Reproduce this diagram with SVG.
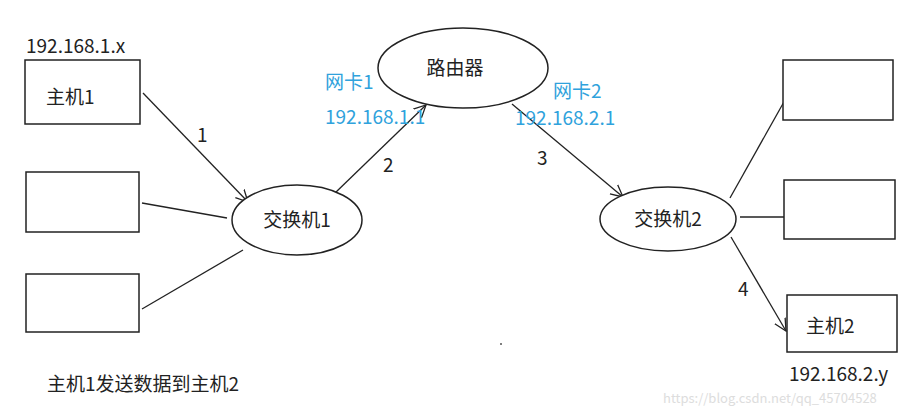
<svg xmlns="http://www.w3.org/2000/svg" width="916" height="415" viewBox="0 0 916 415">
<style>
text{font-family:"Noto Sans CJK SC","Noto Sans",sans-serif;font-size:19px;fill:#222}
.b{fill:#2fa2dc}
.n{fill:#fff;stroke:#222;stroke-width:1.5}
.c line{stroke:#222;stroke-width:1.3}
</style>
<defs><marker id="a" markerWidth="14" markerHeight="14" refX="12" refY="7" orient="auto" markerUnits="userSpaceOnUse"><path d="M0,1 L12,7 L0,13" fill="none" stroke="#222" stroke-width="1.3"/></marker></defs>
<rect width="916" height="415" fill="#fff"/>
<g class="c">
<line x1="143" y1="93" x2="248" y2="202" marker-end="url(#a)"/>
<line x1="142" y1="203" x2="227" y2="218"/>
<line x1="142" y1="309" x2="243" y2="250"/>
<line x1="335" y1="193" x2="426" y2="105" marker-end="url(#a)"/>
<line x1="512" y1="104" x2="623" y2="197" marker-end="url(#a)"/>
<line x1="730" y1="198" x2="785" y2="100"/>
<line x1="740" y1="217" x2="784" y2="217"/>
<line x1="731" y1="237" x2="786" y2="331" marker-end="url(#a)"/>
</g>
<g id="host1"><rect class="n" x="25" y="60" width="115" height="64"/><text x="46" y="104">主机1</text></g>
<g id="hostA"><rect class="n" x="26" y="172" width="113" height="60"/></g>
<g id="hostB"><rect class="n" x="26" y="274" width="113" height="58"/></g>
<g id="switch1"><ellipse class="n" cx="297" cy="220" rx="65" ry="35"/><text x="297" y="227" text-anchor="middle">交换机1</text></g>
<g id="router"><ellipse class="n" cx="463" cy="68" rx="85" ry="40"/><text x="455" y="75" text-anchor="middle">路由器</text></g>
<g id="switch2"><ellipse class="n" cx="668" cy="219" rx="68" ry="32"/><text x="668" y="226" text-anchor="middle">交换机2</text></g>
<g id="hostC"><rect class="n" x="783" y="60" width="110" height="60"/></g>
<g id="hostD"><rect class="n" x="784" y="180" width="111" height="59"/></g>
<g id="host2"><rect class="n" x="787" y="295" width="110" height="57"/><text x="806" y="333">主机2</text></g>
<text x="197" y="142">1</text>
<text x="383" y="172">2</text>
<text x="537" y="165">3</text>
<text x="738" y="296">4</text>
<text x="26" y="53">192.168.1.x</text>
<text class="b" x="325" y="89">网卡1</text>
<text class="b" x="325" y="124">192.168.1.1</text>
<text class="b" x="553" y="98">网卡2</text>
<text class="b" x="515" y="125">192.168.2.1</text>
<text x="789" y="381">192.168.2.y</text>
<text x="47" y="391">主机1发送数据到主机2</text>
<circle cx="501" cy="344" r="1" fill="#555"/>
<text x="663" y="403" style="font-size:13px;fill:#ddd">https://blog.csdn.net/qq_45704528</text>
</svg>
